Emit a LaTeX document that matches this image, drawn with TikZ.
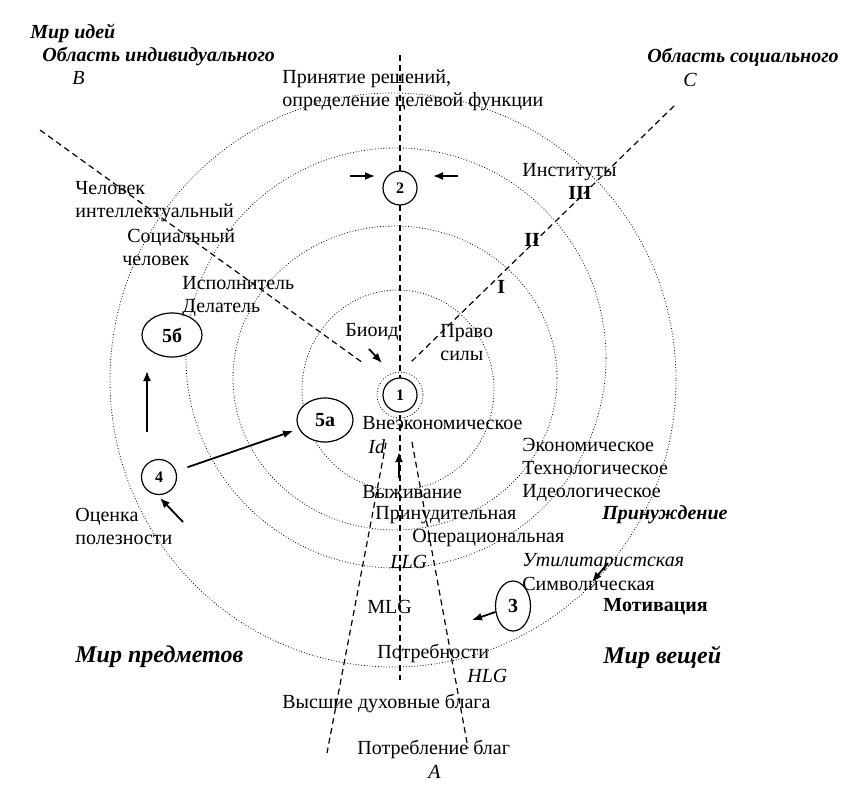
\documentclass[tikz,border=0pt]{standalone}
\usepackage{fontspec}
\setmainfont{Liberation Serif}
\usetikzlibrary{shapes.geometric,arrows.meta}
\begin{document}
\begin{tikzpicture}[x=0.5pt,y=-0.5pt]
    \tikzset{
    lbl/.style={anchor=west,inner sep=0pt,align=left,font=\fontsize{10}{11.5}\selectfont},
    ital/.style={lbl,font=\fontsize{10}{11.5}\selectfont\itshape},
    bld/.style={lbl,font=\fontsize{10}{11.5}\selectfont\bfseries},
    hdr/.style={lbl,font=\fontsize{10}{11.5}\selectfont\bfseries\itshape},
    wrld/.style={lbl,font=\fontsize{12}{14}\selectfont\bfseries\itshape},
    num/.style={circle,draw,line width=0.6pt,fill=white,inner sep=0pt,minimum size=17pt,font=\fontsize{8}{9}\selectfont\bfseries},
    oval/.style={ellipse,draw,line width=0.6pt,fill=white,inner sep=0pt,font=\fontsize{10}{11}\selectfont\bfseries},
    orb/.style={densely dotted,line width=0.4pt},
    axis/.style={dash pattern=on 3pt off 2pt,line width=0.6pt},
    arr/.style={-{Latex[length=5pt,width=4pt]},line width=0.9pt},
    }
    \useasboundingbox (0,0) rectangle (856,791);

    \coordinate (tA) at (400,55);
    \coordinate (bA) at (400,680);
    \coordinate (tB) at (40,130);
    \coordinate (bB) at (363,363);
    \coordinate (tC) at (674,106);
    \coordinate (bC) at (410,363);
    \coordinate (fl1) at (386,443);
    \coordinate (fl2) at (327,753);
    \coordinate (fr1) at (412,442);
    \coordinate (fr2) at (468,748);
    \draw[axis] (tA) -- (bA);
    \draw[axis] (tB) -- (bB);
    \draw[axis] (tC) -- (bC);
    \draw[axis] (fl1) -- (fl2);
    \draw[axis] (fr1) -- (fr2);

    \draw[orb] (393,380) ellipse [x radius=283, y radius=287];
    \draw[orb] (396,358) ellipse [x radius=210, y radius=210];
    \draw[orb] (395,378) ellipse [x radius=162, y radius=152];
    \draw[orb] (398,390) ellipse [x radius=96, y radius=100];
    \draw[orb] (400,395) circle [radius=23];

    \node[num] (n1) at (400,395) {1};
    \node[num] (n2) at (400,188) {2};
    \node[oval,minimum width=17.5pt,minimum height=25pt] (n3) at (513,606) {3};
    \node[num,minimum size=17.5pt] (n4) at (159,477) {4};
    \node[oval,minimum width=28pt,minimum height=22pt] (n5a) at (325,420) {5а};
    \node[oval,minimum width=30pt,minimum height=22pt] (n5b) at (172,335) {5б};

    \node[hdr] (ideas) at (30,33) {Мир идей};
    \node[hdr] (indiv) at (42,57) {Область индивидуального};
    \node[ital] (B) at (72,78) {B};
    \node[hdr] (soc) at (647,57) {Область социального};
    \node[ital] (C) at (683,80) {C};
    \node[lbl] (dec) at (282,90) {Принятие решений,\\определение целевой функции};
    \node[lbl] (inst) at (522,172) {Институты};
    \node[bld] (r3) at (568,193) {III};
    \node[bld] (r2) at (524,240) {II};
    \node[bld] (r1) at (497,287) {I};
    \node[lbl] (intel) at (75,202) {Человек\\интеллектуальный};
    \node[lbl] (socm) at (127,238) {Социальный};
    \node[lbl] (socm2) at (122,261) {человек};
    \node[lbl] (exec) at (182,297) {Исполнитель\\Делатель};
    \node[lbl] (bio) at (345,332) {Биоид};
    \node[lbl] (law) at (440,343) {Право\\силы};
    \node[lbl] (nonec) at (362,423) {Внеэкономическое};
    \node[ital] (id) at (368,447) {Id};
    \node[lbl] (econ) at (522,470) {Экономическое\\Технологическое\\Идеологическое};
    \node[lbl] (surv) at (362,492) {Выживание};
    \node[lbl] (forc) at (375,515) {Принудительная};
    \node[lbl] (oper) at (412,538) {Операциональная};
    \node[hdr] (coer) at (602,515) {Принуждение};
    \node[ital] (llg) at (390,562) {LLG};
    \node[ital] (util) at (522,562) {Утилитаристская};
    \node[lbl] (symb) at (522,584) {Символическая};
    \node[bld] (motiv) at (603,607) {Мотивация};
    \node[lbl] (mlg) at (367,607) {MLG};
    \node[lbl] (util4) at (75,526) {Оценка\\полезности};
    \node[wrld] (objs) at (75,657) {Мир предметов};
    \node[wrld] (things) at (603,657) {Мир вещей};
    \node[lbl] (needs) at (377,653) {Потребности};
    \node[ital] (hlg) at (467,676) {HLG};
    \node[lbl] (high) at (282,703) {Высшие духовные блага};
    \node[lbl] (cons) at (357,749) {Потребление благ};
    \node[ital] (A) at (428,772) {A};

    \coordinate (l2) at (350,176);
    \coordinate (r2) at (458,176);
    \coordinate (u4a) at (147,432);
    \coordinate (u4b) at (147,371);
    \coordinate (o4a) at (183,522);
    \coordinate (o4b) at (160,498);
    \coordinate (bio1) at (369,349);
    \coordinate (bio2) at (382,363);
    \coordinate (up1) at (399,478);
    \coordinate (up2) at (399,452);
    \coordinate (sym1) at (608,563);
    \coordinate (sym2) at (592,582);
    \coordinate (m3) at (472,620);

    \draw[arr] (l2) -- ++(25,0) coordinate (l2e);
    \draw[arr] (r2) -- ++(-25,0) coordinate (r2e);
    \draw[arr] (u4a) -- (u4b);
    \draw[arr] (o4a) -- (o4b);
    \draw[arr,shorten <=6pt,shorten >=3pt] (n4) -- (n5a);
    \draw[arr] (bio1) -- (bio2);
    \draw[arr] (up1) -- (up2);
    \draw[arr] (sym1) -- (sym2);
    \draw[arr] (n3) -- (m3);
\end{tikzpicture}
\end{document}
